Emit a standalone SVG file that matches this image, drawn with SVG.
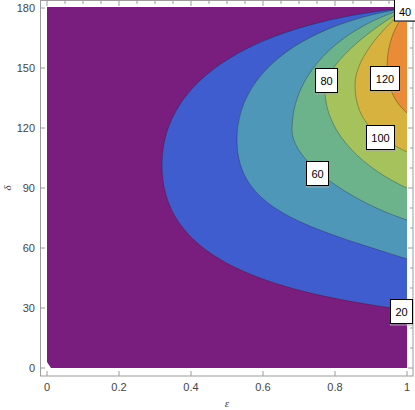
<svg xmlns="http://www.w3.org/2000/svg" width="415" height="410" viewBox="0 0 415 410">
<style>
.frame{fill:none;stroke:#9c9c9c;stroke-width:1}
.tk{fill:none;stroke:#9c9c9c;stroke-width:1}
.tl{font-family:"Liberation Sans",Arial,sans-serif;font-size:11px;fill:#444}
.ax{font-family:"Liberation Serif","DejaVu Serif",serif;font-style:italic;font-size:11px;fill:#444}
.ct{fill:none;stroke:#1a1a1a;stroke-opacity:0.45;stroke-width:0.7}
.lb .sh{fill:none;stroke:#aaa;stroke-width:1}
.lb .bx{fill:#fff;stroke:#000;stroke-width:1}
.lb text{font-family:"Liberation Sans",Arial,sans-serif;font-size:11px;fill:#000;text-anchor:middle}
</style>
<g id="plot">
<path id="r0" fill="#791d7f" d="M47,7 H407 V368 H51 L47,362 Z"/>
<path id="r20" fill="#3f5dcf" d="M407,8 C260,22 162,76 162,165 C162,255 257,290.5 407,310 Z"/>
<path id="r40" fill="#4f97b8" d="M407,8 C307,23 237,70 237,140 C237,210 307,227 407,259 Z"/>
<path id="r60" fill="#6cb38c" d="M407,8 C345,26 292,70 292,130 C292,160 347,200.2 407,220 Z"/>
<path id="r80" fill="#a5c25d" d="M407,8 C385,20 325,60 325,90 C325,135 367,170 407,188 Z"/>
<path id="r100" fill="#d8b23e" d="M407,8 C390,22 355,55 355,85 C355,125 382,139.5 407,152 Z"/>
<path id="r120" fill="#e98b37" d="M407,8 C401,20 387,35 387,68 C387,90 397,104.4 407,113 Z"/>
</g>
<g id="connectors">
<path class="ct" d="M407,8 C260,22 162,76 162,165 C162,255 257,290.5 407,310"/>
<path class="ct" d="M407,8 C307,23 237,70 237,140 C237,210 307,227 407,259"/>
<path class="ct" d="M407,8 C345,26 292,70 292,130 C292,160 347,200.2 407,220"/>
<path class="ct" d="M407,8 C385,20 325,60 325,90 C325,135 367,170 407,188"/>
<path class="ct" d="M407,8 C390,22 355,55 355,85 C355,125 382,139.5 407,152"/>
<path class="ct" d="M407,8 C401,20 387,35 387,68 C387,90 397,104.4 407,113"/>
</g>
<g id="frame">
<rect class="frame" x="40.5" y="0.5" width="372.5" height="375.5"/>
<path class="tk" d="M40,8h5M40,68h5M40,128h5M40,188h5M40,248h5M40,308h5M40,368h5
M47,376v-5M119,376v-5M191,376v-5M263,376v-5M335,376v-5M407,376v-5
M47,1v5M119,1v5M191,1v5M263,1v5M335,1v5M407,1v5
M65,1v3M83,1v3M101,1v3M137,1v3M155,1v3M173,1v3M209,1v3M227,1v3M245,1v3M281,1v3M299,1v3M317,1v3M353,1v3M371,1v3M389,1v3
M413,8h-5M413,68h-5M413,128h-5M413,188h-5M413,248h-5M413,308h-5M413,368h-5
M413,28h-3M413,48h-3M413,88h-3M413,108h-3M413,148h-3M413,168h-3M413,208h-3M413,228h-3M413,268h-3M413,288h-3M413,328h-3M413,348h-3"/>
<g class="tl" text-anchor="end">
<text x="35" y="12">180</text>
<text x="35" y="72">150</text>
<text x="35" y="132">120</text>
<text x="35" y="192">90</text>
<text x="35" y="252">60</text>
<text x="35" y="312">30</text>
<text x="35" y="372">0</text>
</g>
<g class="tl" text-anchor="middle">
<text x="47" y="391">0</text>
<text x="119" y="391">0.2</text>
<text x="191" y="391">0.4</text>
<text x="263" y="391">0.6</text>
<text x="335" y="391">0.8</text>
<text x="407" y="391">1</text>
</g>
<text class="ax" x="227" y="406.5" text-anchor="middle">ε</text>
<text class="ax" x="11" y="188" text-anchor="middle" transform="rotate(-90 11 188)">δ</text>
</g>
<g id="label20" class="lb"><rect class="sh" x="390.5" y="301" width="22" height="24"/><rect class="bx" x="390.5" y="299.5" width="22" height="24"/><text x="401.5" y="315.5">20</text></g>
<g id="label40" class="lb"><rect class="sh" x="394.5" y="-2.5" width="22" height="24"/><rect class="bx" x="394.5" y="-4" width="22" height="25"/><text x="405" y="16">40</text></g>
<g id="label60" class="lb"><rect class="sh" x="306.5" y="163" width="22" height="24"/><rect class="bx" x="306.5" y="161.5" width="22" height="24"/><text x="317.5" y="177.5">60</text></g>
<g id="label80" class="lb"><rect class="sh" x="315.5" y="70" width="22" height="24"/><rect class="bx" x="315.5" y="68.5" width="22" height="24"/><text x="326.5" y="84.5">80</text></g>
<g id="label100" class="lb"><rect class="sh" x="366.5" y="127" width="28" height="24"/><rect class="bx" x="366.5" y="125.5" width="28" height="24"/><text x="380.5" y="141.5">100</text></g>
<g id="label120" class="lb"><rect class="sh" x="370.5" y="68" width="29" height="24"/><rect class="bx" x="370.5" y="66.5" width="29" height="24"/><text x="385" y="82.5">120</text></g>
</svg>
